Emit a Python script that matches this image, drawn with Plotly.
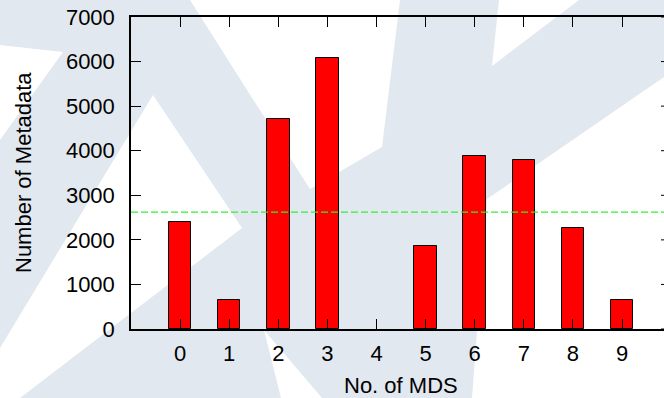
import plotly.graph_objects as go

# ---- data ----
mds_ids = [0, 1, 2, 3, 4, 5, 6, 7, 8, 9]
metadata_counts = [2410, 650, 4705, 6073, 0, 1855, 3881, 3785, 2259, 640]
avg_line = 2620
y_ticks = [0, 1000, 2000, 3000, 4000, 5000, 6000, 7000]
x_ticks = [0, 1, 2, 3, 4, 5, 6, 7, 8, 9]

W, H = 664, 398
L, R, T, B = 131, 0, 17, 69
PW, PH = W - L - R, H - T - B

def px(x):
    return (x - L) / PW

def py(y):
    return (H - B - y) / PH

def poly(pts):
    d = "M " + " L ".join(f"{px(x):.5f},{py(y):.5f}" for x, y in pts) + " Z"
    return d

LIGHT = "#e2e8ef"
shapes = []
# full light background (watermark)
shapes.append(dict(type="rect", xref="paper", yref="paper", x0=px(0), x1=px(W), y0=py(H), y1=py(0),
                   fillcolor=LIGHT, line_width=0, layer="below"))
white_polys = [
    [(190, 0), (400, 0), (382, 147), (310, 189)],
    [(499, 0), (579, 0), (492, 66)],
    [(664, 77), (487, 199), (472, 398), (664, 398)],
    [(0, 45), (63, 52), (0, 140)],
    [(153, 95), (242, 228), (20, 398), (0, 398), (0, 348)],
    [(264, 330), (281, 398), (322, 398)],
]
for p in white_polys:
    shapes.append(dict(type="path", xref="paper", yref="paper", path=poly(p),
                       fillcolor="white", line_width=0, layer="below"))

# right-side mirrored y ticks (plot border lies just outside the image)
for v in y_ticks:
    shapes.append(dict(type="line", xref="paper", yref="y", x0=1 - 3 / PW, x1=1, y0=v, y1=v,
                       line=dict(color="black", width=1), layer="above"))

fig = go.Figure()
fig.add_trace(go.Bar(x=mds_ids, y=metadata_counts, width=0.46,
                     marker=dict(color="#ff0000",
                                 line=dict(color="black",
                                           width=[1 if v > 0 else 0 for v in metadata_counts]))))

shapes.append(dict(type="line", xref="paper", yref="y", x0=0, x1=1, y0=avg_line, y1=avg_line,
                   line=dict(color="#33ee33", width=1.2, dash="7px,3px"), layer="above"))

FONT = "Liberation Sans, Arial, Helvetica, sans-serif"
fig.update_layout(
    width=W, height=H,
    margin=dict(l=L, r=R, t=T, b=B, pad=0),
    paper_bgcolor="white", plot_bgcolor="rgba(0,0,0,0)",
    showlegend=False,
    font=dict(family=FONT, size=22, color="black"),
    shapes=shapes,
    bargap=0,
    annotations=[
        dict(text="Number of Metadata", xref="paper", yref="paper", x=px(23), y=0.5,
             textangle=-90, showarrow=False, xanchor="center", yanchor="middle",
             font=dict(size=22)),
        dict(text="No. of MDS", xref="paper", yref="paper", x=px(401), y=py(385),
             showarrow=False, xanchor="center", yanchor="middle", font=dict(size=22)),
    ],
)
fig.update_xaxes(range=[-1, (W - 180) / 49.11], tickmode="array", tickvals=x_ticks,
                 ticktext=[str(v) for v in x_ticks],
                 showline=True, linecolor="black", linewidth=1.5, mirror="ticks",
                 ticks="inside", ticklen=10, tickwidth=1, tickcolor="black",
                 showgrid=False, zeroline=False, ticklabelstandoff=4, fixedrange=True)
fig.update_yaxes(range=[0, 7000], tickmode="array", tickvals=y_ticks,
                 ticktext=[str(v) for v in y_ticks],
                 showline=True, linecolor="black", linewidth=1.5, mirror=False,
                 ticks="inside", ticklen=10, tickwidth=1, tickcolor="black",
                 showgrid=False, zeroline=False, ticklabelstandoff=10, fixedrange=True)

fig.write_html("out.html")
